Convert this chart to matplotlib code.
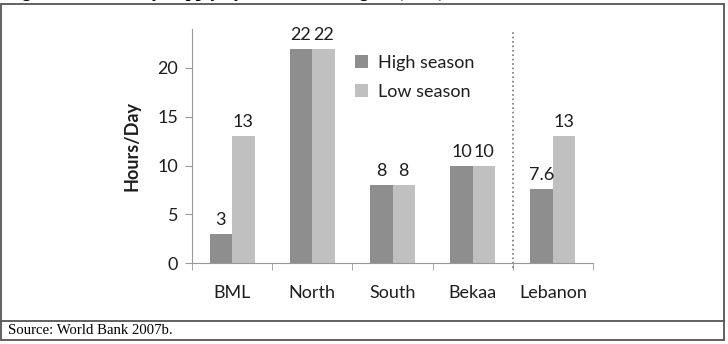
import matplotlib.pyplot as plt
from matplotlib.patches import Rectangle
from matplotlib.lines import Line2D
import numpy as np

regions = ['BML', 'North', 'South', 'Bekaa', 'Lebanon']
high_season = [3, 22, 8, 10, 7.6]
low_season = [13, 22, 8, 10, 13]
high_labels = ['3', '22', '8', '10', '7.6']
low_labels = ['13', '22', '8', '10', '13']

W, H = 728, 344
fig = plt.figure(figsize=(W / 100, H / 100), dpi=100)
plt.rcParams['font.family'] = ['Lato', 'DejaVu Sans']
txt = '#1e1e1e'

# axes placed in pixel terms
ax = fig.add_axes([192 / W, 1 - 263 / H, 401 / W, 234 / H])

x = np.arange(len(regions))
bw = 0.28
ax.bar(x - bw / 2, high_season, bw, color='#8e8e8e', label='High season')
ax.bar(x + bw / 2, low_season, bw, color='#c0c0c0', label='Low season')

for xi, v, s in zip(x, high_season, high_labels):
    ax.text(xi - bw / 2, v + 0.6, s, ha='center', va='bottom', fontsize=13, color=txt)
for xi, v, s in zip(x, low_season, low_labels):
    ax.text(xi + bw / 2, v + 0.6, s, ha='center', va='bottom', fontsize=13, color=txt)

ax.set_xlim(-0.5, 4.5)
ax.set_ylim(0, 24)
ax.set_yticks([0, 5, 10, 15, 20])
ax.set_xticks(x)
ax.set_xticklabels(regions, fontsize=13, color=txt)
ax.set_xticks(np.arange(-0.5, 4.6, 1), minor=True)
ax.tick_params(axis='x', which='major', length=0, pad=16)
ax.tick_params(axis='x', which='minor', length=5, color='#999999', direction='out')
ax.tick_params(axis='y', length=5, color='#999999', labelsize=13, labelcolor=txt, pad=5)
for side in ['top', 'right']:
    ax.spines[side].set_visible(False)
for side in ['left', 'bottom']:
    ax.spines[side].set_color('#999999')
ax.set_ylabel('Hours/Day', fontsize=13, fontweight='bold', color=txt, labelpad=12)

# dotted separator before Lebanon
ax.plot([3.5, 3.5], [-0.5, 23.7], color='#777777', linestyle=':', linewidth=1.2, clip_on=False)

ax.legend(loc='upper left', bbox_to_anchor=(0.365, 0.96), frameon=False, fontsize=13,
          labelcolor=txt, handlelength=0.75, handleheight=0.75, handletextpad=0.55,
          labelspacing=0.75)

# outer frame and source note
fig.add_artist(Rectangle((1 / W, 1 - 340 / H), 723 / W, 336 / H, transform=fig.transFigure,
                         fill=False, edgecolor='#555555', linewidth=1.3))
fig.add_artist(Line2D([1 / W, 724 / W], [1 - 321 / H, 1 - 321 / H], transform=fig.transFigure,
                      color='#555555', linewidth=1.3))
fig.text(8 / W, 1 - 331 / H, 'Source: World Bank 2007b.', family='Liberation Serif',
         fontsize=10.6, va='center', ha='left')
# caption above the frame, only its lowest edge shows
fig.text(6 / W, 1 + 3 / H, 'Figure 4: Electricity Supply by Season and Region (2007)',
         family='Liberation Serif', fontweight='bold', fontsize=13, va='baseline', ha='left')

fig.savefig('out.png', dpi=100)
